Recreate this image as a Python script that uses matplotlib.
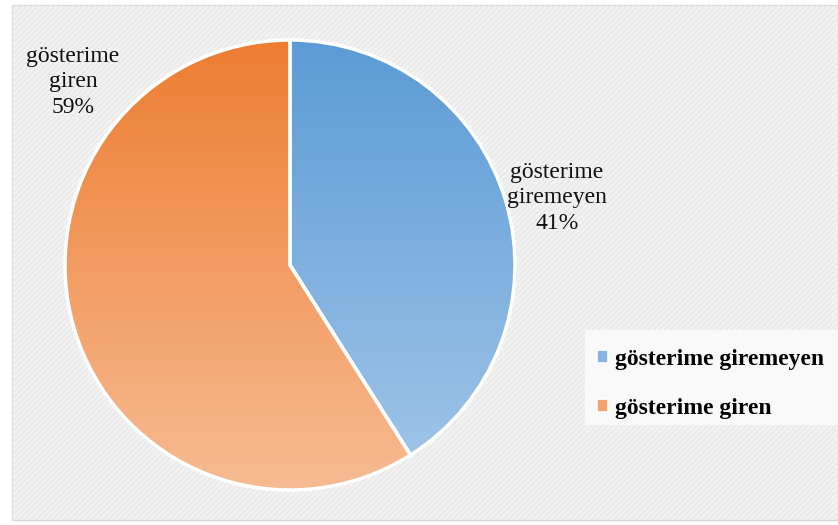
import numpy as np
import matplotlib
matplotlib.use("Agg")
import matplotlib.pyplot as plt
from matplotlib.patches import Rectangle, Patch
from matplotlib.colors import LinearSegmentedColormap

categories = ["gösterime giremeyen", "gösterime giren"]
label_lines = ["gösterime\ngiremeyen", "gösterime\ngiren"]
values = [41, 59]

top_colors = ["#5b9bd5", "#ed7d31"]
bottom_colors = ["#a3c6e9", "#f7bb92"]
legend_colors = ["#86b5e2", "#f3a36d"]

W, H = 838, 525
fig = plt.figure(figsize=(W / 100, H / 100), dpi=100)
ax = fig.add_axes([0, 0, 1, 1])

# chart area background
ax.add_patch(Rectangle((12, 5), W - 12, H - 10, facecolor="#f2f2f2",
                       edgecolor="#d9d9d9", linewidth=1.0, zorder=0))
ax.add_patch(Rectangle((12, 5), W - 12, H - 10, facecolor="none",
                       edgecolor="#e9e9e9", hatch="//////", linewidth=0, zorder=0.1))

cx, cy, r = 290, H - 265, 225
wedges, _ = ax.pie(values, center=(cx, cy), radius=r, startangle=90,
                   counterclock=False, colors=legend_colors,
                   wedgeprops=dict(edgecolor="white", linewidth=2.5),
                   frame=True)
ax.set_xlim(0, W)
ax.set_ylim(0, H)
ax.set_aspect("equal")
ax.axis("off")

# vertical gradient fill inside each wedge
for w, c_top, c_bot in zip(wedges, top_colors, bottom_colors):
    w.set_facecolor("none")
    w.set_zorder(3)
    cmap = LinearSegmentedColormap.from_list("g", [c_bot, c_top])
    grad = np.linspace(0, 1, 256).reshape(-1, 1)
    im = ax.imshow(grad, cmap=cmap, origin="lower", aspect="auto",
                   extent=(cx - r, cx + r, cy - r, cy + r), zorder=2,
                   interpolation="bilinear")
    im.set_clip_path(w)

total = sum(values)
label_pos = [(557, H - 198), (73, H - 82)]
for (x, y), name, v in zip(label_pos, label_lines, values):
    ax.text(x, y, f"{name}\n{v / total:.0%}", ha="center", va="center",
            fontsize=17, family="Liberation Serif", color="#111111",
            linespacing=1.3, zorder=5)

# legend panel
ax.add_patch(Rectangle((585, H - 425), W - 585, 95, facecolor="#f9f9f9",
                       edgecolor="none", zorder=4))
handles = [Patch(facecolor=c, edgecolor="white", linewidth=1.2) for c in legend_colors]
leg = ax.legend(handles, categories, loc="center left",
                bbox_to_anchor=(590 / W, 1 - 384 / H), bbox_transform=fig.transFigure,
                prop=dict(family="Liberation Serif", weight="bold", size=17),
                frameon=False, handlelength=0.45, handleheight=0.45,
                handletextpad=0.3, labelspacing=1.2, borderpad=0.3,
                borderaxespad=0)
leg.set_zorder(6)

fig.savefig("out.png", dpi=100)
